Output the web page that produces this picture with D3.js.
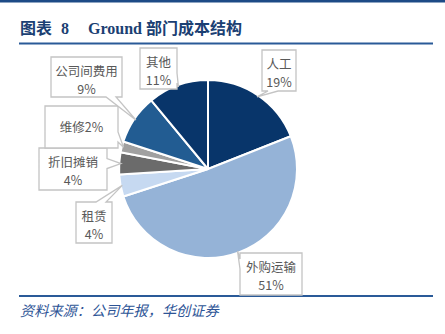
<!DOCTYPE html>
<html>
<head>
<meta charset="utf-8">
<script src="https://cdn.jsdelivr.net/npm/d3@7/dist/d3.min.js"></script>
<style>
  html, body { margin: 0; padding: 0; background: #fff; }
  svg { display: block; }
</style>
</head>
<body>
<svg id="chart" width="445" height="334"></svg>
<script>
// Ground 部门成本结构 (%)
const categories = ["人工", "外购运输", "租赁", "折旧摊销", "维修", "公司间费用", "其他"];
const shares = [19, 51, 4, 4, 2, 9, 11];
const sliceColors = ["#08356a", "#95b3d7", "#c6d9f1", "#6b6b6b", "#a0a0a0", "#225c92", "#08356a"];

// callout boxes: top-left corner, size, and whether name and value share one line
const calloutBoxes = [
  { x: 262, y: 50,  w: 34, h: 41, inline: false },
  { x: 240, y: 253, w: 62, h: 42, inline: false },
  { x: 76,  y: 202, w: 36, h: 41, inline: false },
  { x: 39,  y: 148, w: 68, h: 42, inline: false },
  { x: 45,  y: 106, w: 73, h: 42, inline: true },
  { x: 51,  y: 57,  w: 71, h: 40, inline: false },
  { x: 140, y: 48,  w: 37, h: 41, inline: false }
];

const svg = d3.select("#chart");
const W = 445;

// frame: top band, title, title rule, bottom rule, source note
svg.append("rect").attr("x", 0).attr("y", 0).attr("width", W).attr("height", 2.5).attr("fill", "#1d4a86");
const title = svg.append("text")
  .attr("y", 34)
  .attr("font-family", "'Liberation Serif', 'Noto Sans CJK SC', serif")
  .attr("font-weight", "bold").attr("font-size", 16)
  .attr("fill", "#1b3f73");
title.append("tspan").attr("x", 20).text("图表");
title.append("tspan").attr("x", 61).text("8");
title.append("tspan").attr("x", 88).text("Ground 部门成本结构");
svg.append("rect").attr("x", 19).attr("y", 42.5).attr("width", 414).attr("height", 2).attr("fill", "#2a5a98");
svg.append("rect").attr("x", 19).attr("y", 295).attr("width", 414).attr("height", 2).attr("fill", "#2a5a98");
svg.append("text")
  .attr("x", 20).attr("y", 316)
  .attr("font-family", "'Noto Sans CJK SC', sans-serif")
  .attr("font-style", "italic").attr("font-size", 14.2)
  .attr("fill", "#2d5496")
  .text("资料来源：公司年报，华创证券");

// pie
const cx = 208, cy = 169, R = 89;
const pie = d3.pie().sort(null).value(d => d.v).startAngle(0).endAngle(2 * Math.PI);
const rows = categories.map((c, i) => ({ name: c, v: shares[i], color: sliceColors[i], box: calloutBoxes[i] }));
const arcs = pie(rows);
const arc = d3.arc().innerRadius(0).outerRadius(R);

const g = svg.append("g").attr("transform", `translate(${cx},${cy})`);
g.selectAll("path.slice").data(arcs).join("path")
  .attr("class", "slice")
  .attr("d", arc)
  .attr("fill", d => d.data.color)
  .attr("stroke", "#fff").attr("stroke-width", 2).attr("stroke-linejoin", "round");

// callout outline: rectangle with a pointer wedge on the side facing the slice
function calloutPath(b, tx, ty) {
  const x0 = b.x, y0 = b.y, x1 = b.x + b.w, y1 = b.y + b.h;
  const out = {
    top: y0 - ty, bottom: ty - y1, left: x0 - tx, right: tx - x1
  };
  const side = Object.keys(out).reduce((a, k) => out[k] > out[a] ? k : a, "top");
  const hw = 5, pad = 6;
  const clamp = (v, lo, hi) => Math.max(lo, Math.min(hi, v));
  const pts = [];
  pts.push([x0, y0]);
  if (side === "top") { const c = clamp(tx, x0 + pad + hw, x1 - pad - hw); pts.push([c - hw, y0], [tx, ty], [c + hw, y0]); }
  pts.push([x1, y0]);
  if (side === "right") { const c = clamp(ty, y0 + pad + hw, y1 - pad - hw); pts.push([x1, c - hw], [tx, ty], [x1, c + hw]); }
  pts.push([x1, y1]);
  if (side === "bottom") { const c = clamp(tx, x0 + pad + hw, x1 - pad - hw); pts.push([c + hw, y1], [tx, ty], [c - hw, y1]); }
  pts.push([x0, y1]);
  if (side === "left") { const c = clamp(ty, y0 + pad + hw, y1 - pad - hw); pts.push([x0, c + hw], [tx, ty], [x0, c - hw]); }
  return "M" + pts.map(p => p.join(",")).join("L") + "Z";
}

const labels = svg.append("g");
arcs.forEach(a => {
  const b = a.data.box;
  const mid = (a.startAngle + a.endAngle) / 2;
  const tx = cx + Math.sin(mid) * R * 0.98;
  const ty = cy - Math.cos(mid) * R * 0.98;
  labels.append("path")
    .attr("d", calloutPath(b, tx, ty))
    .attr("fill", "#fff").attr("stroke", "#c4c4c4").attr("stroke-width", 1.3)
    .attr("stroke-linejoin", "miter");
  const xm = b.x + b.w / 2;
  const addLine = (y, s) => labels.append("text")
    .attr("x", xm).attr("y", y)
    .attr("text-anchor", "middle")
    .attr("font-family", "'Noto Sans CJK SC', 'Liberation Sans', sans-serif")
    .attr("font-size", 12.5).attr("fill", "#595959")
    .text(s);
  if (b.inline) {
    addLine(b.y + b.h / 2 + 4.5, a.data.name + a.data.v + "%");
  } else {
    addLine(b.y + 18.5, a.data.name);
    addLine(b.y + 36.5, a.data.v + "%");
  }
});
</script>
</body>
</html>
